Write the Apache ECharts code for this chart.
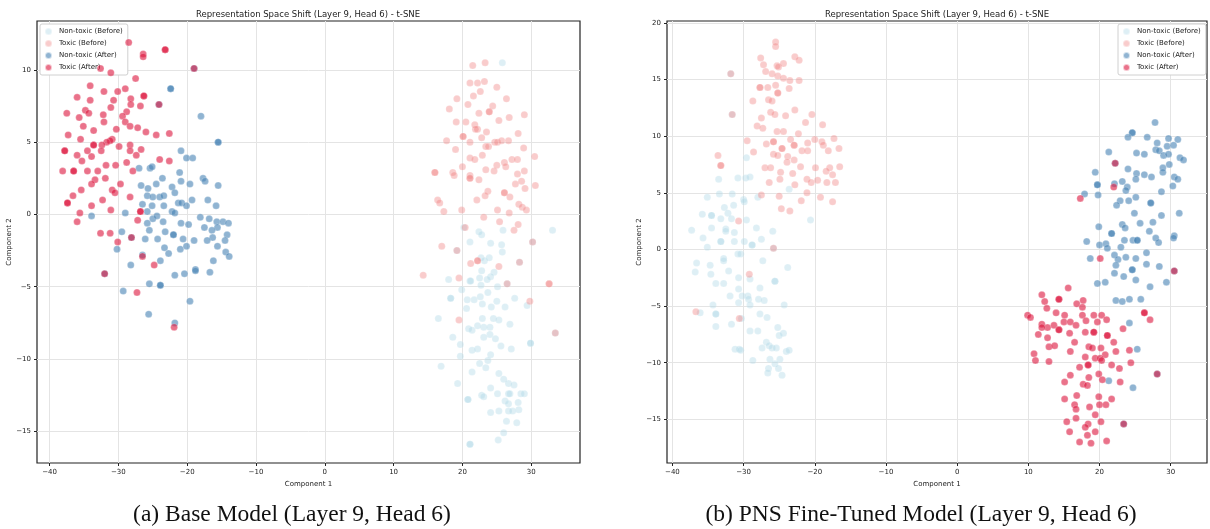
<!DOCTYPE html>
<html>
<head>
<meta charset="utf-8">
<script src="https://cdn.jsdelivr.net/npm/echarts@6/dist/echarts.min.js"></script>
<style>
  html, body { margin: 0; padding: 0; background: #fff; }
  #chart { width: 1210px; height: 529px; }
</style>
</head>
<body>
<div id="chart"></div>
<script>
// legend names / series
const seriesNames = ['Non-toxic (Before)', 'Toxic (Before)', 'Non-toxic (After)', 'Toxic (After)'];

// tick values
const xTicks = [-40, -30, -20, -10, 0, 10, 20, 30];
const leftYTicks = [-15, -10, -5, 0, 5, 10];
const rightYTicks = [-15, -10, -5, 0, 5, 10, 15, 20];

// (a) base model - [component1, component2]
const leftNonToxicBefore = [
  [25.8,10.5],[20.2,-0.9],[22.4,-1.2],[22.8,-1.4],[25.9,-1.1],[33.1,-1.1],[21.1,-1.9],[24.1,-2.0],[25.7,-2.1],[25.8,-2.6],
  [22.7,-3.0],[23.2,-3.2],[23.9,-3.0],[22.8,-3.9],[24.6,-4.0],[24.1,-4.3],[18.0,-4.5],[21.1,-4.6],[21.2,-4.6],[22.5,-4.4],
  [23.6,-4.5],[22.7,-4.9],[25.1,-5.0],[19.9,-5.2],[18.3,-5.8],[18.3,-5.8],[20.7,-5.9],[21.7,-5.9],[22.6,-5.7],[23.7,-5.4],
  [25.0,-6.0],[27.6,-5.8],[22.9,-6.2],[24.2,-6.4],[26.2,-6.4],[29.4,-6.3],[20.6,-6.5],[16.5,-7.2],[22.9,-7.2],[24.5,-7.2],
  [25.3,-7.3],[26.9,-7.6],[20.9,-7.9],[21.4,-8.0],[22.2,-7.7],[23.1,-7.8],[24.0,-7.8],[24.0,-8.3],[23.1,-8.5],[24.8,-8.6],
  [18.6,-8.5],[19.7,-9.0],[25.6,-9.1],[27.1,-9.3],[29.9,-8.9],[29.9,-8.9],[21.4,-9.4],[22.2,-9.3],[24.1,-9.7],[19.7,-9.8],
  [23.7,-10.1],[22.5,-10.3],[23.4,-10.6],[16.9,-10.5],[21.4,-10.9],[25.3,-11.0],[26.0,-11.4],[26.7,-11.7],[27.5,-11.8],[19.3,-11.7],
  [24.1,-12.0],[28.5,-12.4],[29.0,-12.4],[25.1,-12.4],[26.7,-12.4],[26.9,-12.4],[22.8,-12.5],[23.1,-12.6],[20.8,-12.8],[20.8,-12.8],
  [26.2,-12.9],[26.7,-13.1],[28.1,-13.0],[24.1,-13.7],[25.3,-13.6],[26.7,-13.6],[27.3,-13.6],[28.2,-13.5],[26.4,-14.3],[27.9,-14.4],
  [26.0,-15.1],[25.2,-15.6],[21.1,-15.9],[21.1,-15.9],
  [19.2,-2.5],[28.3,-3.3],[26.5,-4.8],[33.5,-8.2],[30.2,-1.9]
];
const leftToxicBefore = [
  [21.5,10.3],[23.3,10.5],[21.1,9.1],[22.2,9.1],[23.2,9.2],[25.0,8.8],[19.2,8.0],[21.6,8.2],[22.6,8.5],[26.4,8.0],
  [20.8,7.6],[18.1,7.3],[24.4,7.5],[22.4,7.0],[23.9,7.1],[23.9,7.1],[29.0,6.9],[26.8,6.7],[25.3,6.5],[19.1,6.4],
  [20.5,6.4],[21.8,6.2],[22.2,5.9],[21.9,5.9],[23.5,5.7],[20.1,5.4],[20.1,5.4],[22.8,5.3],[28.1,5.6],[17.7,5.1],
  [21.1,5.0],[23.4,4.7],[23.8,4.7],[24.7,5.0],[25.1,5.0],[25.7,5.1],[26.7,5.1],[19.0,4.5],[28.9,4.6],[30.5,4.0],
  [22.9,4.1],[21.1,3.9],[21.8,3.8],[25.0,3.4],[26.1,3.6],[27.2,3.8],[28.0,3.8],[26.3,3.3],[20.0,3.3],[23.4,3.1],
  [24.6,3.0],[29.0,3.0],[28.0,2.8],[16.0,2.9],[16.0,2.9],[18.6,2.9],[18.8,2.7],[21.1,2.7],[21.1,2.5],[21.1,2.5],
  [22.4,2.4],[28.6,2.3],[27.7,2.1],[29.1,1.8],[30.6,2.0],[23.7,1.6],[23.3,1.3],[26.1,1.5],[26.1,1.5],[26.9,1.2],
  [16.4,1.0],[16.7,0.8],[22.1,1.0],[28.2,0.7],[28.7,0.5],[29.3,0.3],[17.3,0.2],[19.9,0.3],[25.1,0.3],[26.8,0.1],
  [23.1,-0.2],[25.4,-0.5],[28.1,-0.7],[27.5,-1.1],[20.4,-0.9],[17.0,-2.2],[19.2,-2.5],[30.2,-1.9],
  [22.2,-3.2],[22.2,-3.2],[21.2,-3.4],[25.3,-3.6],[28.3,-3.3],[14.3,-4.2],[19.5,-4.4],[26.5,-4.8],[32.6,-4.8],[32.6,-4.8],
  [29.8,-6.0],[19.5,-7.3],[33.5,-8.2]
];
const leftNonToxicAfter = [
  [-22.4,8.7],[-22.4,8.7],[-18.0,6.8],[-15.5,5.0],[-15.5,5.0],[-20.9,4.4],[-20.1,3.9],[-19.2,3.9],[-27.0,3.2],[-25.4,3.2],
  [-25.1,3.3],[-21.1,2.9],[-23.6,2.5],[-20.9,2.3],[-19.6,2.1],[-17.7,2.5],[-17.4,2.3],[-15.5,2.0],[-26.7,2.0],[-25.7,1.8],
  [-24.5,2.1],[-22.2,1.9],[-21.8,1.5],[-25.8,1.3],[-25.0,1.2],[-24.0,1.2],[-23.4,1.3],[-26.5,0.7],[-25.1,0.6],[-23.4,0.6],
  [-21.3,0.8],[-20.8,0.8],[-20.1,0.6],[-19.3,1.0],[-17.0,1.0],[-15.8,0.6],[-29.0,0.1],[-25.8,0.2],[-25.0,-0.3],[-24.4,-0.1],
  [-23.5,-0.5],[-22.2,0.2],[-21.8,0.1],[-25.8,-0.6],[-20.9,-0.6],[-19.8,-0.7],[-18.1,-0.2],[-16.8,-0.3],[-15.7,-0.5],[-14.8,-0.5],
  [-14.0,-0.6],[-15.6,-0.9],[-17.5,-0.9],[-33.9,-0.1],[-29.5,-1.2],[-25.5,-1.1],[-23.2,-1.2],[-22.0,-1.4],[-22.0,-1.4],[-16.4,-1.1],
  [-16.3,-1.6],[-14.2,-1.4],[-14.5,-1.8],[-17.1,-1.8],[-19.0,-1.8],[-20.6,-1.7],[-26.1,-1.7],[-24.3,-1.7],[-30.2,-2.4],[-23.3,-2.3],
  [-22.7,-2.7],[-21.0,-2.4],[-20.1,-2.2],[-15.6,-2.2],[-14.4,-2.6],[-13.9,-2.9],[-26.5,-2.8],[-23.9,-3.2],[-16.2,-3.2],[-28.2,-3.5],
  [-18.8,-3.8],[-18.8,-3.9],[-16.7,-4.0],[-20.4,-4.1],[-21.8,-4.2],[-25.5,-4.8],[-23.9,-4.9],[-23.9,-4.9],[-29.3,-5.3],[-19.6,-6.0],
  [-25.6,-6.9],[-21.8,-7.5],
  [-24.1,7.6],[-19.0,10.1],[-28.1,-1.6],[-32.0,-4.1]
];
const leftToxicAfter = [
  [-28.5,11.9],[-23.2,11.4],[-23.2,11.4],[-26.4,11.1],[-26.4,10.9],[-19.0,10.1],[-32.6,10.1],[-31.1,9.8],[-27.5,9.4],[-34.1,8.9],
  [-29.0,8.7],[-32.1,8.5],[-30.1,8.5],[-36.0,8.1],[-34.1,7.9],[-30.7,7.9],[-28.2,8.0],[-26.3,8.2],[-26.3,8.2],[-28.2,7.6],
  [-26.8,7.5],[-31.1,7.4],[-24.1,7.6],[-37.5,7.0],[-34.8,7.2],[-34.3,7.0],[-32.2,6.9],[-35.7,6.7],[-28.8,7.1],[-29.4,6.8],
  [-32.1,6.4],[-29.0,6.4],[-28.3,6.1],[-35.1,6.1],[-30.3,5.9],[-27.2,6.0],[-26.0,5.7],[-33.6,5.8],[-24.5,5.5],[-22.6,5.6],
  [-37.3,5.5],[-35.5,5.2],[-30.9,5.2],[-31.2,5.1],[-31.7,5.0],[-32.4,4.8],[-33.6,4.8],[-33.6,4.8],[-29.9,4.7],[-28.3,4.8],
  [-28.3,4.4],[-26.7,4.5],[-37.8,4.4],[-37.8,4.4],[-34.5,4.4],[-32.5,4.4],[-27.4,4.1],[-36.0,4.1],[-33.9,4.0],[-35.3,3.7],
  [-24.0,3.8],[-22.6,3.7],[-28.8,3.6],[-31.8,3.4],[-30.4,3.4],[-38.1,3.0],[-36.5,3.0],[-36.5,3.0],[-34.5,3.0],[-33.0,3.0],
  [-27.9,3.0],[-33.4,2.4],[-31.9,2.5],[-33.9,2.1],[-29.7,2.1],[-35.4,1.7],[-30.9,1.7],
  [-36.6,1.3],[-37.4,0.8],[-37.4,0.8],[-30.5,1.5],[-28.3,1.2],[-33.9,0.6],[-32.3,1.0],[-35.6,0.1],[-36.0,-0.5],[-31.1,0.3],
  [-26.8,0.2],[-26.8,0.2],[-27.2,-0.4],[-32.6,-1.3],[-31.2,-1.3],[-30.1,-1.9],[-28.1,-1.6],[-26.5,-2.9],[-24.8,-3.5],[-32.0,-4.1],
  [-27.3,-5.4],[-21.9,-7.8]
];

// (b) PNS fine-tuned model
const rightNonToxicBefore = [
  [-29.6,8.1],[-33.5,6.2],[-30.8,6.3],[-29.7,6.3],[-29.1,6.4],[-23.6,5.3],[-35.1,4.6],[-33.4,4.9],[-31.6,4.9],[-28.0,4.6],
  [-30.0,4.4],[-29.9,4.2],[-32.7,3.7],[-31.4,3.9],[-35.8,3.1],[-34.5,3.0],[-34.5,3.0],[-32.2,3.2],[-33.2,2.7],[-31.7,2.7],
  [-29.6,2.6],[-20.6,2.6],[-37.3,1.7],[-34.5,1.9],[-32.5,1.8],[-32.5,1.6],[-31.3,1.5],[-28.2,1.9],[-25.9,1.6],[-35.7,1.0],
  [-33.2,0.7],[-33.2,0.7],[-31.3,0.7],[-29.9,0.7],[-28.8,0.4],[-28.8,0.4],[-27.5,0.9],[-35.1,0.2],[-30.8,-0.4],[-30.4,-0.4],
  [-32.8,-0.8],[-32.8,-1.0],[-27.3,-1.0],[-36.6,-1.2],[-34.7,-1.4],[-36.8,-2.0],[-34.6,-2.2],[-32.1,-1.9],[-23.8,-1.6],[-30.7,-2.5],
  [-29.1,-2.6],[-33.9,-3.0],[-32.8,-3.0],[-25.6,-2.8],[-25.6,-2.8],[-27.7,-3.4],[-30.7,-3.5],[-31.9,-4.1],[-30.2,-4.1],[-29.4,-4.1],
  [-29.3,-4.4],[-27.9,-4.4],[-27.1,-4.5],[-30.7,-4.7],[-29.1,-4.9],[-34.3,-4.9],[-24.3,-4.9],[-36.1,-5.6],[-33.9,-5.7],[-33.9,-5.7],
  [-30.3,-6.1],[-27.7,-5.7],[-26.7,-6.0],[-33.9,-6.8],[-31.7,-6.6],[-25.2,-6.9],[-24.4,-7.4],[-25.0,-7.6],[-29.1,-7.2],[-28.0,-7.2],
  [-26.8,-8.2],[-26.4,-8.5],[-27.4,-8.7],[-26.0,-8.7],[-25.4,-8.7],[-31.2,-8.8],[-30.6,-8.8],[-30.4,-8.9],[-24.0,-9.0],[-23.6,-8.9],
  [-28.7,-9.8],[-26.3,-9.7],[-24.9,-9.7],[-25.6,-10.1],[-26.5,-10.5],[-25.1,-10.5],[-26.6,-10.9],[-24.6,-11.1],
  [-31.8,15.5],[-31.6,11.9],[-25.8,0.1]
];
const rightToxicBefore = [
  [-25.5,18.3],[-25.5,17.9],[-27.6,16.9],[-22.8,17.0],[-22.2,16.7],[-27.2,16.3],[-25.3,16.2],[-25.1,16.1],[-24.4,16.4],[-26.9,15.7],
  [-26.0,15.5],[-25.2,15.3],[-24.4,15.1],[-23.5,14.9],[-22.2,14.9],[-25.5,14.5],[-27.7,14.3],[-27.7,14.3],[-26.6,14.3],[-23.6,14.2],
  [-25.2,13.8],[-25.2,13.8],[-28.7,13.1],[-26.5,13.2],[-26.0,13.1],[-22.8,12.3],[-26.2,12.1],[-25.6,11.9],[-24.1,11.8],[-20.4,11.9],
  [-27.5,11.6],[-21.3,11.2],[-18.9,11.0],[-28.1,10.9],[-27.3,10.7],[-25.3,10.4],[-24.4,10.4],[-22.3,10.2],[-29.5,9.6],[-25.8,9.5],
  [-25.8,9.5],[-23.4,9.7],[-21.0,9.4],[-20.0,9.7],[-19.0,9.5],[-18.8,9.2],[-17.3,9.8],[-26.8,9.3],[-22.9,9.2],[-22.9,9.2],
  [-24.6,8.9],[-24.6,8.9],[-28.6,8.6],[-21.8,8.7],[-21.0,8.7],[-18.1,8.7],[-16.6,8.9],[-25.8,8.4],[-25.2,8.3],[-23.8,8.2],
  [-22.9,7.9],[-23.9,7.7],[-33.6,8.3],[-33.2,7.4],[-33.2,7.4],[-27.0,7.2],[-26.2,7.2],[-24.8,6.8],[-22.0,7.3],[-19.9,7.2],
  [-17.9,7.2],[-16.5,7.3],[-18.4,6.9],[-17.5,6.6],[-23.1,6.7],[-24.9,6.2],[-21.1,6.2],[-19.6,6.1],[-26.4,5.9],[-22.8,5.7],
  [-20.5,5.9],[-18.3,5.9],[-17.1,5.9],[-27.5,4.8],[-25.0,4.7],[-21.1,5.0],[-19.2,4.6],[-21.9,4.3],[-17.5,4.2],[-24.7,3.6],
  [-23.5,3.4],[-30.7,2.5],[-25.8,0.1],[-29.2,-2.2],[-36.7,-5.5],[-30.6,-6.1],[-31.8,15.5],[-31.6,11.9]
];
const rightNonToxicAfter = [
  [27.8,11.2],[24.6,10.3],[24.6,10.3],[24.0,9.9],[26.7,9.9],[28.1,9.4],[29.7,9.8],[31.0,9.7],[29.5,9.1],[30.4,9.2],
  [21.3,8.6],[25.2,8.5],[26.3,8.4],[27.9,8.8],[28.4,8.7],[29.0,8.3],[29.7,8.4],[31.3,8.1],[31.8,7.9],[29.8,7.5],
  [24.0,7.1],[28.9,7.2],[28.9,6.8],[19.4,6.8],[25.2,6.7],[26.3,6.6],[27.3,6.4],[30.5,6.4],[31.0,6.2],[19.7,5.7],
  [19.7,5.7],[22.1,5.8],[23.2,6.0],[25.1,6.2],[23.9,5.5],[23.7,5.2],[17.9,4.9],[19.8,4.8],[28.7,5.1],[30.3,5.6],
  [22.9,4.3],[24.1,4.3],[25.1,4.6],[22.4,3.9],[27.2,4.1],[27.2,4.1],[31.2,3.2],[24.9,3.2],[28.7,3.0],[19.9,2.0],
  [23.2,2.2],[23.6,1.9],[25.7,2.3],[27.5,2.4],[27.0,1.6],[21.7,1.4],[21.7,1.4],[18.2,0.7],[23.5,0.8],[24.7,0.8],
  [25.3,0.8],[25.3,0.8],[27.9,1.0],[28.3,0.6],[30.5,1.2],[30.4,1.0],[20.0,0.4],[20.9,0.5],[21.1,0.1],[23.0,0.2],
  [26.6,-0.3],[18.7,-0.8],[22.1,-0.5],[22.6,-0.9],[23.7,-0.7],[25.1,-0.8],[22.3,-1.4],[26.6,-1.3],[28.4,-1.5],[24.6,-1.8],
  [24.6,-1.8],[22.1,-2.1],[23.4,-2.4],[25.1,-2.7],[19.7,-3.0],[20.8,-2.9],[27.1,-3.3],[29.4,-2.9],[22.3,-4.5],[23.2,-4.6],
  [24.2,-4.4],[25.8,-4.4],[24.2,-6.5],[25.3,-8.8],[21.3,-11.6],[24.7,-12.2],
  [22.2,7.6],[30.5,-1.9],[23.4,-15.4],[28.1,-11.0]
];
const rightToxicAfter = [
  [22.2,7.6],[22.0,5.5],[17.3,4.5],[20.1,-0.8],[30.5,-1.9],[15.6,-3.4],[11.9,-4.0],[12.3,-4.6],[14.3,-4.4],[14.3,-4.4],
  [17.7,-4.5],[16.8,-4.8],[12.6,-5.2],[17.6,-5.1],[9.9,-5.8],[10.3,-6.0],[13.9,-5.6],[15.1,-5.8],[17.6,-5.8],[19.2,-5.8],
  [20.3,-5.8],[26.3,-5.6],[26.3,-5.6],[27.1,-6.2],[11.9,-6.6],[12.7,-6.9],[13.6,-6.7],[15.0,-6.4],[15.9,-6.4],[16.7,-6.7],
  [18.1,-6.3],[19.7,-6.4],[21.0,-6.2],[23.3,-7.0],[11.9,-6.9],[14.3,-7.1],[14.3,-7.1],[11.4,-7.5],[15.8,-7.4],[18.0,-7.3],
  [19.2,-7.3],[19.2,-7.3],[21.1,-7.6],[21.1,-7.6],[12.7,-7.8],[22.0,-8.2],[16.5,-8.2],[12.9,-8.6],[13.7,-8.5],[18.5,-8.6],
  [19.0,-8.7],[20.2,-8.7],[22.3,-9.0],[24.2,-8.9],[10.8,-9.2],[15.9,-9.0],[20.8,-9.3],[11.0,-9.8],[12.9,-9.9],[18.0,-9.5],
  [19.4,-9.6],[20.1,-9.6],[20.3,-9.8],[24.4,-10.0],[18.4,-10.2],[18.4,-10.2],[17.2,-10.4],[21.7,-10.2],[22.8,-10.5],[15.9,-11.1],
  [19.9,-11.0],[18.5,-11.3],[15.1,-11.7],[20.4,-11.5],[22.9,-11.7],[17.7,-11.9],[18.3,-12.0],[15.1,-13.2],[16.8,-12.9],[19.9,-13.0],
  [21.7,-13.2],[16.5,-13.7],[16.7,-14.1],[18.6,-13.9],[20.0,-13.7],[20.9,-13.7],[19.4,-14.6],[15.4,-15.2],[16.7,-14.9],[18.4,-15.4],
  [18.0,-15.7],[20.2,-15.2],[15.8,-16.1],[18.3,-16.4],[19.4,-16.1],[17.2,-17.0],[18.8,-17.1],[21.0,-16.9],[23.4,-15.4],[28.1,-11.0]
];

const colors = ['#add8e6', '#f08080', '#4682b4', '#dc143c'];
const alphas = [0.4, 0.4, 0.6, 0.6];
const FONT = 'DejaVu Sans';
const TITLE = 'Representation Space Shift (Layer 9, Head 6) - t-SNE';

const minus = v => String(v).replace('-', '\u2212');

function scatter(i, data, gi) {
  return {
    name: seriesNames[i],
    type: 'scatter',
    xAxisIndex: gi,
    yAxisIndex: gi,
    data: data,
    symbolSize: 7,
    itemStyle: { color: colors[i], opacity: alphas[i], borderColor: '#fff', borderWidth: 0.4 },
    emphasis: { disabled: true },
    z: 2 + i
  };
}

function xAxis(gi, min, max) {
  return {
    gridIndex: gi, type: 'value', min: min, max: max,
    name: 'Component 1', nameLocation: 'middle', nameGap: 17,
    nameTextStyle: { fontSize: 7, color: '#222', fontFamily: FONT },
    axisLine: { show: false, onZero: false },
    axisTick: { show: true, customValues: xTicks, length: 3, lineStyle: { color: '#222' } },
    axisLabel: { customValues: xTicks, fontSize: 7, color: '#222', fontFamily: FONT, margin: 6, formatter: minus },
    splitLine: { show: true, lineStyle: { color: '#e4e4e4', width: 1 } }
  };
}

function yAxis(gi, min, max, ticks) {
  return {
    gridIndex: gi, type: 'value', min: min, max: max,
    name: 'Component 2', nameLocation: 'middle', nameGap: 24, nameRotate: 90,
    nameTextStyle: { fontSize: 7, color: '#222', fontFamily: FONT },
    axisLine: { show: false, onZero: false },
    axisTick: { show: true, customValues: ticks, length: 3, lineStyle: { color: '#222' } },
    axisLabel: { customValues: ticks, fontSize: 7, color: '#222', fontFamily: FONT, margin: 6, formatter: minus },
    splitLine: { show: true, lineStyle: { color: '#e4e4e4', width: 1 } }
  };
}

function legend(left) {
  return {
    left: left, top: 24, orient: 'vertical',
    icon: 'circle', itemWidth: 11, itemHeight: 7, itemGap: 3,
    padding: [3, 5, 3, 4],
    backgroundColor: '#fff', borderColor: '#d0d0d0', borderWidth: 1, borderRadius: 2,
    textStyle: { fontSize: 7, color: '#222', fontFamily: FONT, lineHeight: 7 },
    data: seriesNames
  };
}

const chart = echarts.init(document.getElementById('chart'));
chart.setOption({
  animation: false,
  backgroundColor: '#fff',
  grid: [
    { left: 37, top: 21, width: 543, height: 442, show: true, borderColor: '#222', borderWidth: 1.2 },
    { left: 667, top: 21, width: 540, height: 442, show: true, borderColor: '#222', borderWidth: 1.2 }
  ],
  xAxis: [xAxis(0, -41.83, 37.09), xAxis(1, -40.76, 35.1)],
  yAxis: [yAxis(0, -17.19, 13.38, leftYTicks), yAxis(1, -18.85, 20.16, rightYTicks)],
  legend: [legend(40), legend(1118)],
  series: [
    scatter(0, leftNonToxicBefore, 0),
    scatter(1, leftToxicBefore, 0),
    scatter(2, leftNonToxicAfter, 0),
    scatter(3, leftToxicAfter, 0),
    scatter(0, rightNonToxicBefore, 1),
    scatter(1, rightToxicBefore, 1),
    scatter(2, rightNonToxicAfter, 1),
    scatter(3, rightToxicAfter, 1)
  ],
  graphic: [
    { type: 'text', x: 308, y: 15, style: { text: TITLE, fill: '#222', font: '8.5px "DejaVu Sans"', align: 'center', verticalAlign: 'middle' } },
    { type: 'text', x: 937, y: 15, style: { text: TITLE, fill: '#222', font: '8.5px "DejaVu Sans"', align: 'center', verticalAlign: 'middle' } },
    { type: 'text', x: 292, y: 515, style: { text: '(a) Base Model (Layer 9, Head 6)', fill: '#111', font: '23.5px "Liberation Serif"', align: 'center', verticalAlign: 'middle' } },
    { type: 'text', x: 921, y: 515, style: { text: '(b) PNS Fine-Tuned Model (Layer 9, Head 6)', fill: '#111', font: '23.5px "Liberation Serif"', align: 'center', verticalAlign: 'middle' } }
  ]
});
</script>
</body>
</html>
